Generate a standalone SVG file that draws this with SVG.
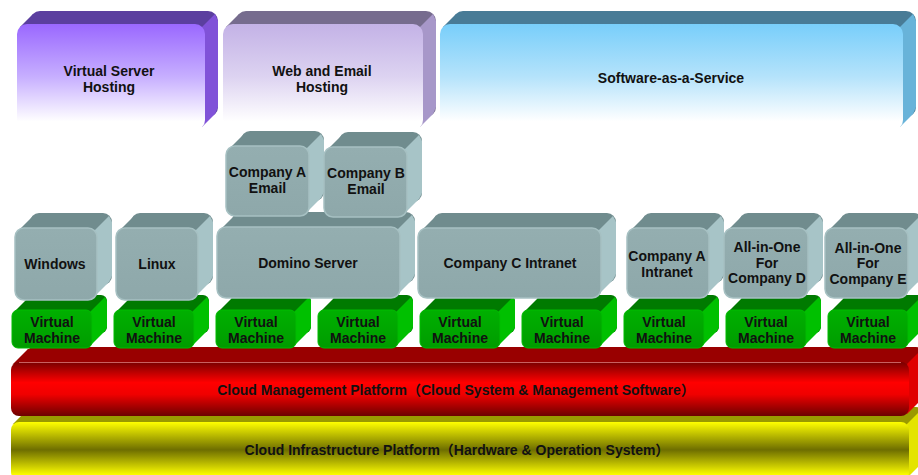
<svg xmlns="http://www.w3.org/2000/svg" width="918" height="475" viewBox="0 0 918 475">
<defs>
<linearGradient id="gPurple" x1="0" y1="0" x2="0" y2="1"><stop offset="0" stop-color="#9a68ff"/><stop offset="0.5" stop-color="#c7afff"/><stop offset="0.92" stop-color="#ffffff"/></linearGradient>
<linearGradient id="gLav" x1="0" y1="0" x2="0" y2="1"><stop offset="0" stop-color="#c3b2e6"/><stop offset="0.5" stop-color="#ddd3f1"/><stop offset="0.92" stop-color="#ffffff"/></linearGradient>
<linearGradient id="gBlue" x1="0" y1="0" x2="0" y2="1"><stop offset="0" stop-color="#78cefa"/><stop offset="0.5" stop-color="#b5e3fb"/><stop offset="0.92" stop-color="#ffffff"/></linearGradient>
<linearGradient id="gGrey" x1="0" y1="0" x2="0" y2="1"><stop offset="0" stop-color="#94aeb0"/><stop offset="1" stop-color="#8ea8aa"/></linearGradient>
<linearGradient id="gGreen" x1="0" y1="0" x2="0" y2="1"><stop offset="0" stop-color="#00b000"/><stop offset="1" stop-color="#009c00"/></linearGradient>
<linearGradient id="gRed" x1="0" y1="0" x2="0" y2="1"><stop offset="0" stop-color="#780000"/><stop offset="0.38" stop-color="#ff0000"/><stop offset="0.6" stop-color="#f00000"/><stop offset="1" stop-color="#6c0000"/></linearGradient>
<linearGradient id="gYellow" x1="0" y1="0" x2="0" y2="1"><stop offset="0" stop-color="#ffff00"/><stop offset="0.48" stop-color="#6e6e00"/><stop offset="0.92" stop-color="#ffff00"/></linearGradient>
<g id="vmShape">
<rect class="vmTop" x="15" y="-15" width="80" height="38" rx="6"/>
<polygon class="vmTop" points="2,2 17,-13 93,-13 78,2"/>
<polygon class="vmSide" points="78,2 93,-13 95,-9 95,17 93,21 78,36"/>
<rect class="vmFront" x="0" y="0" width="80" height="38" rx="6"/>
</g>
</defs>
<style>
.t{font-family:"Liberation Sans","Noto Sans CJK SC",Arial,sans-serif;font-weight:bold;font-size:14px;fill:#111;text-anchor:middle}
.pTop{fill:#5b3f9f}.pSide{fill:#8052d8}.pFront{fill:url(#gPurple)}
.lTop{fill:#766c8e}.lSide{fill:#a797c9}.lFront{fill:url(#gLav)}
.bTop{fill:#487b96}.bSide{fill:#68b3d9}.bFront{fill:url(#gBlue)}
.gTop{fill:#708c8e}.gSide{fill:#a7c4c7}.gFront{fill:url(#gGrey);stroke:#a6c0c2;stroke-width:1.5}
.vmTop{fill:#007a00}.vmSide{fill:#00c000}.vmFront{fill:url(#gGreen);stroke:#00bb00;stroke-width:1}
.rTop{fill:#990000}.rSide{fill:#e00000}.rFront{fill:url(#gRed)}
.yTop{fill:#999900}.ySide{fill:#e4e400}.yFront{fill:url(#gYellow)}
</style>
<rect x="0" y="0" width="918" height="475" fill="#ffffff"/>

<g id="infra" transform="translate(11,422)">
<rect class="yTop" x="15" y="-15" width="898" height="58" rx="8"/>
<polygon class="yTop" points="2,2 17,-13 911,-13 896,2"/>
<polygon class="ySide" points="896,2 911,-13 913,-7 913,35 911,41 896,56"/>
<rect class="yFront" x="0" y="0" width="898" height="58" rx="8"/>
<text class="t" x="446" y="33">Cloud Infrastructure Platform（Hardware &amp; Operation System）</text>
</g>

<g id="mgmt" transform="translate(11,362)">
<rect class="rTop" x="15" y="-15" width="898" height="54" rx="8"/>
<polygon class="rTop" points="2,2 17,-13 911,-13 896,2"/>
<polygon class="rSide" points="896,2 911,-13 913,-7 913,31 911,37 896,52"/>
<rect class="rFront" x="0" y="0" width="898" height="54" rx="8"/>
<line x1="8" y1="0.5" x2="890" y2="0.5" stroke="#c86060" stroke-width="1"/>
<text class="t" x="445" y="33">Cloud Management Platform（Cloud System &amp; Management Software）</text>
</g>

<g id="vm1" transform="translate(12,310)"><use href="#vmShape"/><text class="t" x="40" y="17">Virtual</text><text class="t" x="40" y="33">Machine</text></g>
<g id="vm2" transform="translate(114,310)"><use href="#vmShape"/><text class="t" x="40" y="17">Virtual</text><text class="t" x="40" y="33">Machine</text></g>
<g id="vm3" transform="translate(216,310)"><use href="#vmShape"/><text class="t" x="40" y="17">Virtual</text><text class="t" x="40" y="33">Machine</text></g>
<g id="vm4" transform="translate(318,310)"><use href="#vmShape"/><text class="t" x="40" y="17">Virtual</text><text class="t" x="40" y="33">Machine</text></g>
<g id="vm5" transform="translate(420,310)"><use href="#vmShape"/><text class="t" x="40" y="17">Virtual</text><text class="t" x="40" y="33">Machine</text></g>
<g id="vm6" transform="translate(522,310)"><use href="#vmShape"/><text class="t" x="40" y="17">Virtual</text><text class="t" x="40" y="33">Machine</text></g>
<g id="vm7" transform="translate(624,310)"><use href="#vmShape"/><text class="t" x="40" y="17">Virtual</text><text class="t" x="40" y="33">Machine</text></g>
<g id="vm8" transform="translate(726,310)"><use href="#vmShape"/><text class="t" x="40" y="17">Virtual</text><text class="t" x="40" y="33">Machine</text></g>
<g id="vm9" transform="translate(828,310)"><use href="#vmShape"/><text class="t" x="40" y="17">Virtual</text><text class="t" x="40" y="33">Machine</text></g>

<g id="windows" transform="translate(15,228)">
<rect class="gTop" x="15" y="-15" width="82" height="72" rx="9"/>
<polygon class="gTop" points="3,3 18,-12 94,-12 79,3"/>
<polygon class="gSide" points="79,3 94,-12 97,-6 97,48 94,54 79,69"/>
<rect class="gFront" x="0" y="0" width="82" height="72" rx="9"/>
<text class="t" x="40" y="41">Windows</text>
</g>
<g id="linux" transform="translate(116,228)">
<rect class="gTop" x="15" y="-15" width="82" height="72" rx="9"/>
<polygon class="gTop" points="3,3 18,-12 94,-12 79,3"/>
<polygon class="gSide" points="79,3 94,-12 97,-6 97,48 94,54 79,69"/>
<rect class="gFront" x="0" y="0" width="82" height="72" rx="9"/>
<text class="t" x="41" y="41">Linux</text>
</g>
<g id="domino" transform="translate(217,227)">
<rect class="gTop" x="15" y="-15" width="183" height="71" rx="9"/>
<polygon class="gTop" points="3,3 18,-12 195,-12 180,3"/>
<polygon class="gSide" points="180,3 195,-12 198,-6 198,47 195,53 180,68"/>
<rect class="gFront" x="0" y="0" width="183" height="71" rx="9"/>
<text class="t" x="91" y="41">Domino Server</text>
</g>
<g id="emailA" transform="translate(226,146)">
<rect class="gTop" x="15" y="-15" width="83" height="70" rx="9"/>
<polygon class="gTop" points="3,3 18,-12 95,-12 80,3"/>
<polygon class="gSide" points="80,3 95,-12 98,-6 98,46 95,52 80,67"/>
<rect class="gFront" x="0" y="0" width="83" height="70" rx="9"/>
<text class="t" x="41.5" y="31">Company A</text>
<text class="t" x="41.5" y="47">Email</text>
</g>
<g id="emailB" transform="translate(324,147)">
<rect class="gTop" x="15" y="-15" width="83" height="70" rx="9"/>
<polygon class="gTop" points="3,3 18,-12 95,-12 80,3"/>
<polygon class="gSide" points="80,3 95,-12 98,-6 98,46 95,52 80,67"/>
<rect class="gFront" x="0" y="0" width="83" height="70" rx="9"/>
<text class="t" x="42" y="31">Company B</text>
<text class="t" x="42" y="47">Email</text>
</g>
<g id="intranetC" transform="translate(418,228)">
<rect class="gTop" x="15" y="-15" width="183" height="70" rx="9"/>
<polygon class="gTop" points="3,3 18,-12 195,-12 180,3"/>
<polygon class="gSide" points="180,3 195,-12 198,-6 198,46 195,52 180,67"/>
<rect class="gFront" x="0" y="0" width="183" height="70" rx="9"/>
<text class="t" x="92" y="40">Company C Intranet</text>
</g>
<g id="intranetA" transform="translate(627,228)">
<rect class="gTop" x="15" y="-15" width="82" height="70" rx="9"/>
<polygon class="gTop" points="3,3 18,-12 94,-12 79,3"/>
<polygon class="gSide" points="79,3 94,-12 97,-6 97,46 94,52 79,67"/>
<rect class="gFront" x="0" y="0" width="82" height="70" rx="9"/>
<text class="t" x="40" y="33">Company A</text>
<text class="t" x="40" y="49">Intranet</text>
</g>
<g id="allinoneD" transform="translate(724,228)">
<rect class="gTop" x="15" y="-15" width="84" height="70" rx="9"/>
<polygon class="gTop" points="3,3 18,-12 96,-12 81,3"/>
<polygon class="gSide" points="81,3 96,-12 99,-6 99,46 96,52 81,67"/>
<rect class="gFront" x="0" y="0" width="84" height="70" rx="9"/>
<text class="t" x="43" y="24">All-in-One</text>
<text class="t" x="43" y="40">For</text>
<text class="t" x="43" y="55">Company D</text>
</g>
<g id="allinoneE" transform="translate(825,228)">
<rect class="gTop" x="15" y="-15" width="83" height="70" rx="9"/>
<polygon class="gTop" points="3,3 18,-12 95,-12 80,3"/>
<polygon class="gSide" points="80,3 95,-12 98,-6 98,46 95,52 80,67"/>
<rect class="gFront" x="0" y="0" width="83" height="70" rx="9"/>
<text class="t" x="43" y="25">All-in-One</text>
<text class="t" x="43" y="40">For</text>
<text class="t" x="43" y="56">Company E</text>
</g>

<g id="vsHosting" transform="translate(17,24)">
<rect class="pTop" x="13" y="-13" width="188" height="106" rx="10"/>
<polygon class="pTop" points="3,3 16,-10 198,-10 185,3"/>
<polygon class="pSide" points="185,3 198,-10 201,-3 201,83 198,90 185,103"/>
<rect class="pFront" x="0" y="0" width="188" height="106" rx="10"/>
<text class="t" x="92" y="52">Virtual Server</text>
<text class="t" x="92" y="68">Hosting</text>
</g>
<g id="webEmail" transform="translate(223,24)">
<rect class="lTop" x="13" y="-13" width="200" height="106" rx="10"/>
<polygon class="lTop" points="3,3 16,-10 210,-10 197,3"/>
<polygon class="lSide" points="197,3 210,-10 213,-3 213,83 210,90 197,103"/>
<rect class="lFront" x="0" y="0" width="200" height="106" rx="10"/>
<text class="t" x="99" y="52">Web and Email</text>
<text class="t" x="99" y="68">Hosting</text>
</g>
<g id="saas" transform="translate(440,24)">
<rect class="bTop" x="13" y="-13" width="463" height="106" rx="10"/>
<polygon class="bTop" points="3,3 16,-10 473,-10 460,3"/>
<polygon class="bSide" points="460,3 473,-10 476,-3 476,83 473,90 460,103"/>
<rect class="bFront" x="0" y="0" width="463" height="106" rx="10"/>
<text class="t" x="231" y="59">Software-as-a-Service</text>
</g>

<g id="connectors"/>
</svg>
